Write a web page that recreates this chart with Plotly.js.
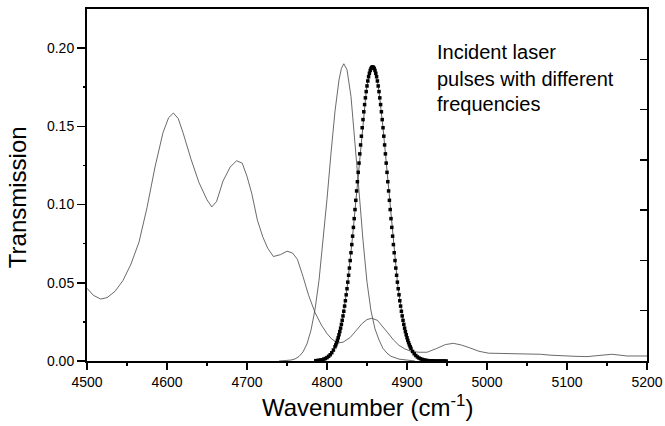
<!DOCTYPE html>
<html>
<head>
<meta charset="utf-8">
<script src="https://cdn.plot.ly/plotly-3.0.1.min.js"></script>
<style>html,body{margin:0;padding:0;background:#fff;}#chart{width:665px;height:426px;}</style>
</head>
<body>
<div id="chart"></div>
<script>
// Broad transmission spectrum (thin line)
const spectrumX = [4500,4508,4517,4525,4535,4545,4555,4565,4575,4585,4595,4602,4608,4614,4620,4630,4640,4650,4656,4662,4670,4679,4687,4694,4700,4706,4713,4720,4726,4733,4742,4750,4757,4763,4770,4777,4785,4793,4800,4806,4813,4820,4829,4837,4844,4850,4856,4863,4870,4876,4883,4890,4897,4905,4915,4925,4937,4948,4958,4968,4978,4990,5002,5020,5037,5052,5067,5080,5092,5110,5125,5140,5156,5165,5175,5190,5200];
const spectrumY = [0.0465,0.0420,0.0396,0.0405,0.0445,0.0515,0.0620,0.0760,0.0980,0.1240,0.1460,0.1555,0.1585,0.1550,0.1460,0.1290,0.1140,0.1030,0.0985,0.1020,0.1150,0.1240,0.1280,0.1265,0.1180,0.1070,0.0900,0.0790,0.0720,0.0668,0.0680,0.0702,0.0690,0.0650,0.0540,0.0420,0.0310,0.0230,0.0175,0.0140,0.0115,0.0120,0.0150,0.0195,0.0240,0.0265,0.0273,0.0260,0.0220,0.0180,0.0135,0.0100,0.0078,0.0062,0.0056,0.0056,0.0080,0.0105,0.0113,0.0102,0.0085,0.0062,0.0050,0.0049,0.0049,0.0047,0.0043,0.0037,0.0033,0.0030,0.0028,0.0035,0.0043,0.0038,0.0032,0.0032,0.0032];

// First laser pulse (thin line)
const pulse1X = [4740,4750,4755,4760,4765,4770,4775,4780,4785,4790,4795,4800,4805,4810,4815,4818,4821,4825,4830,4835,4840,4845,4850,4855,4860,4865,4870,4875,4880,4890,4900,4910];
const pulse1Y = [0.0000,0.0001,0.0006,0.0013,0.0029,0.0058,0.0110,0.0197,0.0329,0.0515,0.0755,0.1035,0.1329,0.1597,0.1797,0.1870,0.1900,0.1862,0.1690,0.1411,0.1087,0.0771,0.0504,0.0320,0.0205,0.0135,0.0080,0.0050,0.0030,0.0012,0.0004,0.0000];

// Second laser pulse (dotted line)
const pulse2X = [4786,4788,4790,4792,4794,4796,4798,4800,4802,4804,4806,4808,
4810,4811,4812,4813,4814,4815,4816,4817,4818,4819,4820,4821,4822,4823,4824,4825,4826,4827,4828,4829,
4830,4831,4832,4833,4834,4835,4836,4837,4838,4839,4840,4841,4842,4843,4844,4845,4846,4847,4848,4849,
4850,4851,4852,4853,4854,4855,4856,4857,4858,4859,4860,4861,4862,4863,4864,4865,4866,4867,4868,4869,
4870,4871,4872,4873,4874,4875,4876,4877,4878,4879,4880,4881,4882,4883,4884,4885,4886,4887,4888,4889,
4890,4891,4892,4893,4894,4895,4896,4897,4898,4899,4900,4901,4902,4903,4904,4905,
4907,4909,4911,4913,4915,4917,4919,4921,4923,4925,4927,4929,4931,4933,4935,4937,4939,4941,4943,4945,4947,4949];
const pulse2Y = [0.0002,0.0003,0.0004,0.0006,0.0008,0.0012,0.0016,0.0022,0.0030,0.0040,0.0053,0.0070,
0.0091,0.0103,0.0117,0.0132,0.0149,0.0168,0.0188,0.0210,0.0234,0.0260,0.0288,0.0318,0.0351,0.0385,0.0423,0.0462,0.0504,0.0548,0.0594,0.0642,
0.0692,0.0744,0.0798,0.0854,0.0910,0.0968,0.1027,0.1087,0.1146,0.1206,0.1265,0.1324,0.1381,0.1437,0.1491,0.1543,0.1593,0.1639,0.1682,0.1722,
0.1758,0.1790,0.1817,0.1839,0.1857,0.1870,0.1877,0.1880,0.1877,0.1870,0.1857,0.1839,0.1817,0.1790,0.1758,0.1722,0.1682,0.1639,0.1593,0.1543,
0.1491,0.1437,0.1381,0.1324,0.1265,0.1206,0.1146,0.1087,0.1027,0.0968,0.0910,0.0854,0.0798,0.0744,0.0692,0.0642,0.0594,0.0548,0.0504,0.0462,
0.0423,0.0385,0.0351,0.0318,0.0288,0.0260,0.0234,0.0210,0.0188,0.0168,0.0149,0.0132,0.0117,0.0103,0.0091,0.0080,
0.0061,0.0046,0.0035,0.0026,0.0019,0.0014,0.0010,0.0007,0.0005,0.0003,0.0002,0.0001,0.0001,0.0001,0.0000,0.0000,0.0000,0.0000,0.0000,0.0000,0.0000,0.0000];

const noteLines = ['Incident laser', 'pulses with different', 'frequencies'];

const FONT = 'Liberation Sans, Arial, Helvetica, sans-serif';

const traces = [
  {x: spectrumX, y: spectrumY, type: 'scatter', mode: 'lines',
   line: {color: '#444', width: 0.8}, showlegend: false},
  {x: pulse1X, y: pulse1Y, type: 'scatter', mode: 'lines',
   line: {color: '#444', width: 0.8}, showlegend: false},
  {x: pulse2X, y: pulse2Y, type: 'scatter', mode: 'lines+markers',
   line: {color: '#333', width: 0.8},
   marker: {symbol: 'square', size: 3.5, color: '#000'},
   showlegend: false},
  // empty carriers so the tick-only axes are drawn
  {x: [4500], y: [null], yaxis: 'y2', type: 'scatter', mode: 'lines', hoverinfo: 'skip', showlegend: false},
  {x: [4500], y: [null], yaxis: 'y3', type: 'scatter', mode: 'lines', hoverinfo: 'skip', showlegend: false},
  {x: [4500], y: [null], xaxis: 'x2', type: 'scatter', mode: 'lines', hoverinfo: 'skip', showlegend: false}
];

const annotations = [
  {xref: 'paper', yref: 'paper', x: -0.124, y: 0.464, text: 'Transmission', textangle: -90,
   showarrow: false, xanchor: 'center', yanchor: 'middle', font: {family: FONT, size: 24, color: '#000'}},
  {xref: 'paper', yref: 'paper', x: 0.5, y: -0.128, text: 'Wavenumber (cm<sup>-1</sup>)',
   showarrow: false, xanchor: 'center', yanchor: 'middle', font: {family: FONT, size: 24, color: '#000'}}
];
const noteY = [0.1976, 0.1804, 0.1645];
noteLines.forEach((t, i) => {
  annotations.push({xref: 'x', yref: 'y', x: 4935, y: noteY[i], text: t, showarrow: false,
    xanchor: 'left', yanchor: 'middle', font: {family: FONT, size: 20, color: '#000'}});
});

const layout = {
  width: 665, height: 426,
  margin: {l: 87, r: 18, t: 9, b: 65, pad: 0, autoexpand: false},
  paper_bgcolor: '#fff', plot_bgcolor: '#fff',
  showlegend: false,
  xaxis: {
    range: [4500, 5200], tickmode: 'linear', tick0: 4500, dtick: 100, tickformat: 'd',
    showgrid: false, zeroline: false, automargin: false,
    showline: true, linecolor: '#000', linewidth: 2, mirror: true,
    ticks: 'outside', ticklen: 7, tickwidth: 1.5, tickcolor: '#000',
    tickfont: {family: FONT, size: 14, color: '#000'}
  },
  // tick-only axis sitting on the bottom edge; its "inside" ticks point downward
  xaxis2: {
    overlaying: 'x', side: 'top', anchor: 'free', position: 0,
    range: [4500, 5200], tickmode: 'linear', tick0: 4500, dtick: 100, showticklabels: false,
    showgrid: false, zeroline: false, showline: false, automargin: false,
    ticks: 'inside', ticklen: 7, tickwidth: 1.5, tickcolor: '#000',
    minor: {dtick: 50, ticks: 'inside', ticklen: 4, tickwidth: 1.5, tickcolor: '#000'}
  },
  yaxis: {
    range: [0, 0.225], tickmode: 'linear', tick0: 0, dtick: 0.05, tickformat: '.2f',
    showgrid: false, zeroline: false, automargin: false,
    showline: true, linecolor: '#000', linewidth: 2, mirror: true,
    ticks: 'outside', ticklen: 8, tickwidth: 1.5, tickcolor: '#000',
    tickfont: {family: FONT, size: 14, color: '#000'}
  },
  yaxis2: {
    overlaying: 'y', side: 'right', anchor: 'x',
    range: [0, 7], tickmode: 'linear', tick0: 0, dtick: 1, showticklabels: false,
    showgrid: false, zeroline: false, automargin: false,
    showline: true, linecolor: '#000', linewidth: 2,
    ticks: 'inside', ticklen: 7, tickwidth: 1.5, tickcolor: '#000'
  },
  // tick-only axis sitting on the left edge; its "inside" ticks point to the left
  yaxis3: {
    overlaying: 'y', side: 'right', anchor: 'free', position: 0,
    range: [0, 0.225], tickmode: 'linear', tick0: 0, dtick: 0.05, showticklabels: false,
    showgrid: false, zeroline: false, showline: false, automargin: false,
    ticks: 'inside', ticklen: 8, tickwidth: 1.5, tickcolor: '#000',
    minor: {dtick: 0.025, ticks: 'inside', ticklen: 4.5, tickwidth: 1.5, tickcolor: '#000'}
  },
  annotations: annotations
};

Plotly.newPlot('chart', traces, layout, {staticPlot: true, displayModeBar: false});
</script>
</body>
</html>
